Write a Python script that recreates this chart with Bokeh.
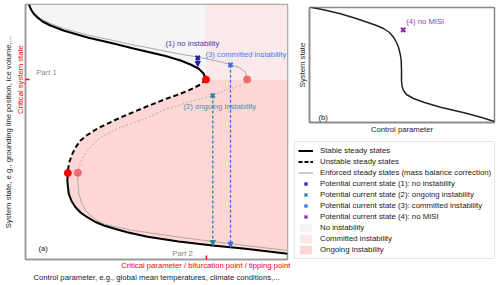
import math
from bokeh.plotting import figure
from bokeh.layouts import row, column
from bokeh.models import (Range1d, FixedTicker, Label, Arrow, NormalHead, Legend,
                          LegendItem, GlobalInlineStyleSheet)
from bokeh.embed import file_html
from bokeh.resources import INLINE

FONT = "Liberation Sans"
FS = "7.7px"

# ---------------- data: panel (a) ----------------
# stable upper branch (black solid)
stable_upper_x = [3.5, 5, 8, 12, 17, 25, 38, 62, 88, 108, 125, 140, 155, 165, 173, 178, 180.5]
stable_upper_y = [255, 251, 246, 242, 238, 234, 229, 222, 216, 211, 207, 203.5, 199, 195, 191, 186, 180]
# unstable branch (black dashed)
unstable_x = [180.5, 175, 165, 153, 140, 120, 95, 72, 61, 55, 50, 47, 44, 42.7, 42.3]
unstable_y = [180, 175, 170, 165, 160.5, 152.5, 142, 131, 124, 119, 112, 106, 98, 91, 86.5]
# stable lower branch (black solid)
stable_lower_x = [42.3, 41.8, 42.5, 43.3, 46, 50, 55, 61.7, 70, 78.3, 90, 101.7, 122, 153, 187, 220, 262]
stable_lower_y = [86.5, 79, 72, 65.7, 58.5, 52.3, 47, 42.3, 37.5, 34, 30.5, 27.3, 22.8, 18, 14, 10.7, 5.7]
# enforced steady states (grey)
enf_upper_x = [4.3, 6, 9, 15, 25, 38, 62, 88, 108, 120, 153.3, 173, 196.7, 213, 220, 221.7]
enf_upper_y = [255, 250, 246, 241, 236, 231, 224.5, 219, 214.5, 212.3, 205.7, 202.3, 197.3, 192.3, 187.3, 179.7]
enf_unstable_x = [221.7, 218, 213, 200, 187.3, 165, 140, 120, 95, 75, 61.7, 55, 52.3]
enf_unstable_y = [179.7, 176, 173.5, 169, 164, 158, 150, 141, 132.3, 122.3, 109, 97.3, 86.7]
enf_lower_x = [52.3, 52.3, 53.3, 56, 60, 65, 71.7, 80, 91.7, 105, 120, 153, 187, 220, 262]
enf_lower_y = [86.7, 79, 65.7, 57, 49, 44, 39, 35, 32.3, 29.5, 27.3, 22.5, 18, 14, 9]

x_max, y_max = 262, 255
x_crit, y_crit = 180.5, 180
x_crit_enf = 221.7
fold_low_x, fold_low_y = 42.3, 86.5
fold_low_enf_x, fold_low_enf_y = 52.3, 86.7

state_labels = ["(1) no instability", "(2) ongoing instability", "(3) committed instability"]
state_x = [172.3, 187.3, 205]
state_y = [201.7, 164, 194.7]
state_target_y = [193, 14, 12.3]
state_colors = ["#1f1fa6", "#23879a", "#2f6ff0"]
state_text_colors = ["#3b3bb0", "#3a96a6", "#3d7ef2"]

# ---------------- data: panel (b) ----------------
b_x = [0, 15, 31, 45, 57.7, 67, 74, 80, 84, 87, 89, 90.8, 91.7, 92, 92, 92.6, 94, 97, 104, 115, 131, 145, 157.7, 172, 185]
b_y = [115.5, 112.5, 108.7, 104.5, 100.3, 97, 94, 90, 85.3, 80, 75.3, 68, 62, 52, 42, 36, 32, 28, 24, 20, 15.3, 12, 9, 5, 1]
b_xmax, b_ymax = 185, 115
state4_x, state4_y = [93.7], [92.7]
state4_color = "#8e2aa8"

c_none = "#f5f5f5"
c_comm = "#fbe9e9"
c_ong = "#ffd6d6"

legend_labels = [
    "Stable steady states",
    "Unstable steady states",
    "Enforced steady states (mass balance correction)",
    "Potential current state (1): no instability",
    "Potential current state (2): ongoing instability",
    "Potential current state (3): committed instability",
    "Potential current state (4): no MISI",
    "No instability",
    "Committed instability",
    "Ongoing instability",
]

# ---------------- panel (a) ----------------
pa = figure(width=290, height=285, x_range=Range1d(0, x_max), y_range=Range1d(0, y_max),
            output_backend="svg", toolbar_location=None,
            min_border_left=25, min_border_right=3, min_border_top=4, min_border_bottom=26)
pa.frame_align = False
pa.grid.grid_line_color = None
pa.outline_line_color = "#999999"
pa.outline_line_width = 1.5

# backgrounds
pa.quad(left=[x_crit], right=[x_max], bottom=[y_crit], top=[y_max], fill_color=c_comm, line_color=None)
pa.patch(stable_upper_x + [x_crit, stable_upper_x[0]], stable_upper_y + [y_max, y_max],
         fill_color=c_none, line_color=None)
pa.patch(unstable_x + stable_lower_x + [x_max, x_crit],
         unstable_y + stable_lower_y + [y_crit, y_crit], fill_color=c_ong, line_color=None)

# curves
pa.line(enf_upper_x, enf_upper_y, line_color="#aaaaaa", line_width=1)
pa.line(enf_unstable_x, enf_unstable_y, line_color="#aaaaaa", line_width=1, line_dash="2 2")
pa.line(enf_lower_x, enf_lower_y, line_color="#aaaaaa", line_width=1)
pa.line(stable_upper_x, stable_upper_y, line_color="black", line_width=2)
pa.line(unstable_x, unstable_y, line_color="black", line_width=2, line_dash="5 3")
pa.line(stable_lower_x, stable_lower_y, line_color="black", line_width=2)

pa.scatter([x_crit_enf, fold_low_enf_x], [y_crit, fold_low_enf_y], size=7, color="#f05a5a", alpha=0.85)
pa.scatter([x_crit, fold_low_x], [y_crit, fold_low_y], size=7, color="#ff0000")

for i in range(3):
    pa.add_layout(Arrow(x_start=state_x[i], y_start=state_y[i], x_end=state_x[i], y_end=state_target_y[i],
                        line_color=state_colors[i], line_width=1.3, line_dash="3 2",
                        end=NormalHead(size=5, fill_color=state_colors[i], line_color=state_colors[i])))
pa.scatter(state_x, state_y, marker="x", size=6, line_width=2, color=state_colors)

label_pos = [(140, 216), (158, 153), (180, 205)]
for i in range(3):
    pa.add_layout(Label(x=label_pos[i][0], y=label_pos[i][1], text=state_labels[i], text_font=FONT,
                        text_font_size=FS, text_color=state_text_colors[i], text_baseline="middle"))
pa.add_layout(Label(x=10.7, y=187.3, text="Part 1", text_font=FONT, text_font_size=FS,
                    text_color="#888888", text_baseline="middle"))
pa.add_layout(Label(x=146.7, y=6.3, text="Part 2", text_font=FONT, text_font_size=FS,
                    text_color="#888888", text_baseline="middle"))
pa.add_layout(Label(x=13, y=11.3, text="(a)", text_font=FONT, text_font_size=FS,
                    text_color="#222222", text_baseline="middle"))

for ax in (pa.xaxis[0], pa.yaxis[0]):
    ax.axis_line_color = "#999999"
    ax.axis_line_width = 1.5
    ax.major_tick_in = 4
    ax.major_tick_out = 0
    ax.major_tick_line_color = "red"
    ax.major_tick_line_width = 1.5
    ax.minor_tick_line_color = None
    ax.major_label_text_color = "red"
    ax.major_label_text_font = FONT
    ax.major_label_text_font_size = FS
    ax.axis_label_text_font = FONT
    ax.axis_label_text_font_size = FS
    ax.axis_label_text_font_style = "normal"
    ax.axis_label_text_color = "#222222"

pa.xaxis.ticker = FixedTicker(ticks=[x_crit])
pa.xaxis.major_label_overrides = {x_crit: "Critical parameter / bifurcation point / tipping point"}
pa.xaxis.major_label_standoff = 1
pa.xaxis.axis_label = "Control parameter, e.g., global mean temperatures, climate conditions,..."
pa.xaxis.axis_label_standoff = 0

pa.yaxis.ticker = FixedTicker(ticks=[y_crit])
pa.yaxis.major_label_overrides = {y_crit: "Critical system state"}
pa.yaxis.major_label_orientation = "parallel"
pa.yaxis.major_label_standoff = 1
pa.yaxis.axis_label = "System state, e.g., grounding line position, ice volume,..."
pa.yaxis.axis_label_standoff = 0

# ---------------- panel (b) ----------------
pb = figure(width=210, height=137, x_range=Range1d(0, b_xmax), y_range=Range1d(0, b_ymax),
            output_backend="svg", toolbar_location=None,
            min_border_left=19, min_border_right=6, min_border_top=7, min_border_bottom=15)
pb.frame_align = False
pb.grid.grid_line_color = None
pb.outline_line_color = "#888888"
pb.outline_line_width = 1.5
pb.line(b_x, b_y, line_color="#222222", line_width=1.5)
pb.scatter(state4_x, state4_y, marker="x", size=6, line_width=2, color=state4_color)
pb.add_layout(Label(x=96.7, y=101.3, text="(4) no MISI", text_font=FONT, text_font_size=FS,
                    text_color="#9a3ab8", text_baseline="middle"))
pb.add_layout(Label(x=9, y=5.3, text="(b)", text_font=FONT, text_font_size=FS,
                    text_color="#222222", text_baseline="middle"))
for ax in (pb.xaxis[0], pb.yaxis[0]):
    ax.ticker = FixedTicker(ticks=[])
    ax.axis_line_color = "#888888"
    ax.axis_line_width = 1.5
    ax.major_tick_line_color = None
    ax.minor_tick_line_color = None
    ax.axis_label_text_font = FONT
    ax.axis_label_text_font_size = FS
    ax.axis_label_text_font_style = "normal"
    ax.axis_label_text_color = "#222222"
pb.xaxis.axis_label = "Control parameter"
pb.xaxis.axis_label_standoff = 2
pb.yaxis.axis_label = "System state"
pb.yaxis.axis_label_standoff = 3

# ---------------- legend ----------------
pl = figure(width=210, height=148, x_range=Range1d(0, 1), y_range=Range1d(0, 1),
            output_backend="svg", toolbar_location=None, min_border=0,
            x_axis_location=None, y_axis_location=None)
pl.frame_align = False
pl.grid.grid_line_color = None
pl.outline_line_color = None
# legend proxies are placed outside the visible range (only their styles are shown)
px, py = [-5], [-5]
r1 = pl.line(x=px + [-4], y=py + [-4], line_color="black", line_width=2)
r2 = pl.line(x=px + [-4], y=py + [-4], line_color="black", line_width=2, line_dash="4 2")
r3 = pl.line(x=px + [-4], y=py + [-4], line_color="#bbbbbb", line_width=1.5)
rm = [pl.scatter(x=px, y=py, marker="x", size=6, line_width=1.5, color=c)
      for c in state_colors + [state4_color]]
rq = [pl.quad(left=[-5], right=[-4], bottom=[-5], top=[-4], fill_color=c, line_color=None)
      for c in (c_none, c_comm, c_ong)]
renderers = [r1, r2, r3] + rm + rq
items = [LegendItem(label=lab, renderers=[r]) for lab, r in zip(legend_labels, renderers)]
leg = Legend(items=items, location="top_left", margin=4, padding=3, spacing=0,
             glyph_width=15, glyph_height=11, label_height=11, label_standoff=7,
             label_text_font=FONT, label_text_font_size="7.8px", label_text_color="#222222",
             border_line_color="#cccccc", border_line_width=1, background_fill_alpha=1)
pl.add_layout(leg, "center")

layout = row(pa, column(pb, pl))
layout.stylesheets = [GlobalInlineStyleSheet(css="body { margin: 0; }")]

open("out.html", "w").write(file_html(layout, INLINE))
